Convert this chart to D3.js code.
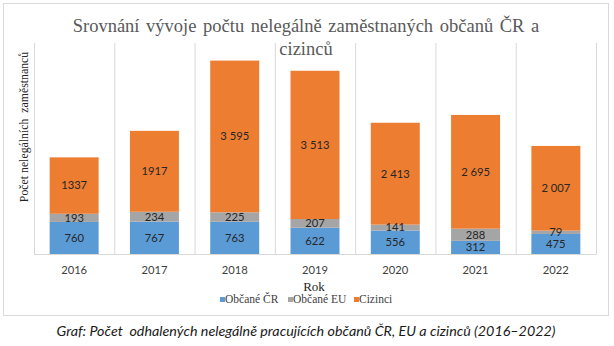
<!DOCTYPE html>
<html><head><meta charset="utf-8">
<script src="https://cdn.jsdelivr.net/npm/d3@7"></script>
<style>body{margin:0;background:#fff}svg{display:block}</style>
</head><body>
<script>
const years = ["2016","2017","2018","2019","2020","2021","2022"];
const obcaneCR = [760,767,763,622,556,312,475];
const obcaneEU = [193,234,225,207,141,288,79];
const cizinci = [1337,1917,3595,3513,2413,2695,2007];
const cizinciLabels = ["1337","1917","3 595","3 513","2 413","2 695","2 007"];
const seriesNames = ["Občané ČR","Občané EU","Cizinci"];
const colors = ["#5B9BD5","#A5A5A5","#ED7D31"];

const W=614,H=346;
const svg=d3.select("body").append("svg").attr("width",W).attr("height",H);
svg.append("rect").attr("x",3.5).attr("y",3.5).attr("width",605).attr("height",312)
  .attr("fill","#fff").attr("stroke","#d9d9d9");

const x=d3.scaleBand().domain(years).range([34,596]).padding(0);
const y=d3.scaleLinear().domain([0,5000]).range([254,43]);

const g=svg.append("g");
const bounds=years.map(d=>x(d)).concat([x.range()[1]]);
g.selectAll("line.grid").data(bounds).join("line")
  .attr("x1",d=>d+0.5).attr("x2",d=>d+0.5).attr("y1",y(5000)).attr("y2",y(0))
  .attr("stroke","#d9d9d9").attr("stroke-width",1);

const table=years.map((yr,i)=>({year:yr,"Občané ČR":obcaneCR[i],"Občané EU":obcaneEU[i],"Cizinci":cizinci[i],lab:[String(obcaneCR[i]),String(obcaneEU[i]),cizinciLabels[i]]}));
const stack=d3.stack().keys(seriesNames)(table);
const bw=x.bandwidth()*0.61;
stack.forEach((s,si)=>{
  g.selectAll(null).data(s).join("rect")
    .attr("x",d=>x(d.data.year)+(x.bandwidth()-bw)/2)
    .attr("width",bw)
    .attr("y",d=>y(d[1])).attr("height",d=>y(d[0])-y(d[1]))
    .attr("fill",colors[si]);
});
stack.forEach((s,si)=>{
  g.selectAll(null).data(s).join("text")
    .attr("x",d=>x(d.data.year)+x.bandwidth()/2)
    .attr("y",d=>(y(d[0])+y(d[1]))/2)
    .attr("dy","0.35em")
    .attr("text-anchor","middle")
    .attr("font-family","Lato, 'Open Sans', sans-serif").attr("font-size",11.2)
    .attr("fill","#262626")
    .text(d=>d.data.lab[si]);
});
svg.append("line").attr("x1",34).attr("x2",596.5).attr("y1",254.5).attr("y2",254.5).attr("stroke","#d9d9d9");

const xa=svg.append("g").attr("transform","translate(0,254)")
  .call(d3.axisBottom(x).tickSize(0).tickPadding(12));
xa.select(".domain").remove();
xa.selectAll("text").attr("font-family","Lato, 'Open Sans', sans-serif").attr("font-size",11.2).attr("fill","#404040");

const serif="'Liberation Serif','Times New Roman',serif";
svg.append("text").attr("x",306).attr("y",32).attr("text-anchor","middle")
  .attr("font-family",serif).attr("font-size",18.5).attr("fill","#595959").attr("word-spacing",2)
  .text("Srovnání vývoje počtu nelegálně zaměstnaných občanů ČR a");
svg.append("text").attr("x",306).attr("y",55).attr("text-anchor","middle")
  .attr("font-family",serif).attr("font-size",18.5).attr("fill","#595959")
  .text("cizinců");
svg.append("text").attr("transform","translate(28,127) rotate(-90)").attr("text-anchor","middle")
  .attr("font-family",serif).attr("font-size",11.8).attr("fill","#262626")
  .attr("xml:space","preserve").style("white-space","pre")
  .text("Počet nelegálních  zaměstnanců");
svg.append("text").attr("x",314).attr("y",291).attr("text-anchor","middle")
  .attr("font-family",serif).attr("font-size",13).attr("fill","#262626").text("Rok");
const leg=svg.append("g");
const legX=[220,288,354];
seriesNames.forEach((n,i)=>{
  leg.append("rect").attr("x",legX[i]).attr("y",297).attr("width",5).attr("height",5).attr("fill",colors[i]);
  leg.append("text").attr("x",legX[i]+5).attr("y",302.5).attr("font-family",serif).attr("font-size",11.5)
    .attr("fill","#404040").text(n);
});
svg.append("text").attr("x",306).attr("y",336).attr("text-anchor","middle")
  .attr("font-family","Lato, 'Open Sans', sans-serif").attr("font-style","italic").attr("font-size",14.3)
  .attr("fill","#1a1a1a").attr("xml:space","preserve").style("white-space","pre")
  .text("Graf: Počet  odhalených nelegálně pracujících občanů ČR, EU a cizinců (2016–2022)");
</script>
</body></html>
